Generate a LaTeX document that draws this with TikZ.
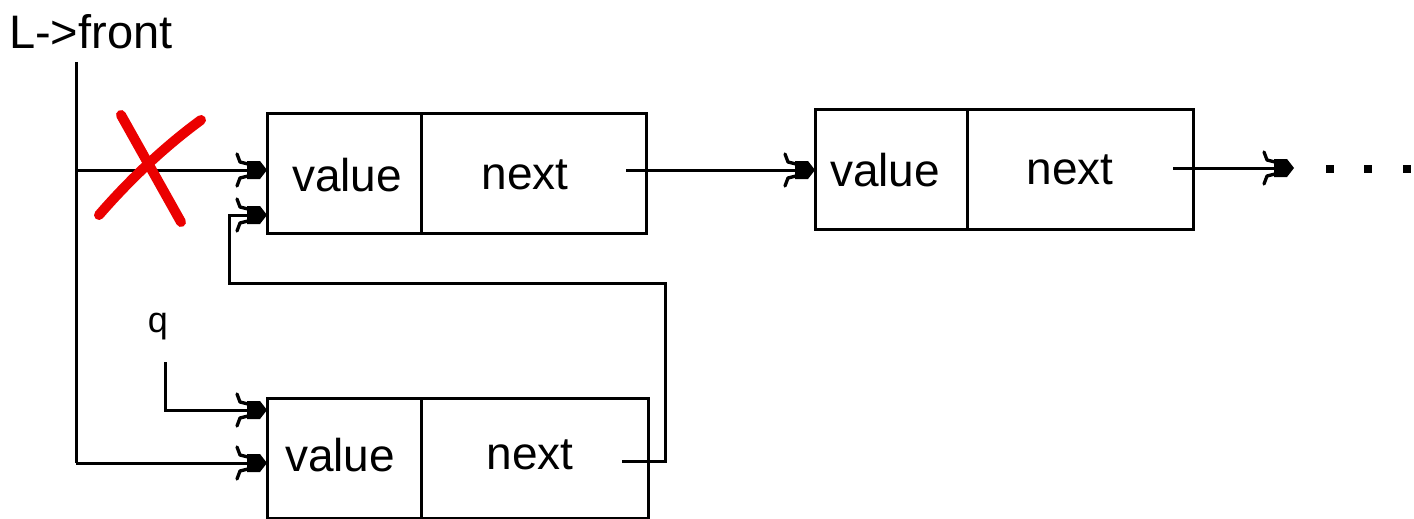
\documentclass[tikz,border=0pt]{standalone}
\usepackage{fontspec}
\setmainfont{Liberation Sans}
\usetikzlibrary{arrows.meta}
\pgfdeclarearrow{
  name=HookTip,
  setup code={
    \pgfarrowssettipend{0pt}
    \pgfarrowssetlineend{-11pt}
    \pgfarrowssetbackend{-34pt}
    \pgfarrowshullpoint{0pt}{0pt}
    \pgfarrowshullpoint{-34pt}{18pt}
    \pgfarrowshullpoint{-34pt}{-18pt}
  },
  drawing code={
    \pgfsetdash{}{0pt}
    \pgfsetroundcap
    \pgfsetroundjoin
    \pgfpathmoveto{\pgfpoint{-20pt}{9pt}}
    \pgfpathlineto{\pgfpoint{-7pt}{9pt}}
    \pgfpathlineto{\pgfpoint{0pt}{0pt}}
    \pgfpathlineto{\pgfpoint{-7pt}{-9pt}}
    \pgfpathlineto{\pgfpoint{-20pt}{-9pt}}
    \pgfpathclose
    \pgfusepathqfill
    \pgfsetlinewidth{3.3pt}
    \pgfpathmoveto{\pgfpoint{-17pt}{5.5pt}}
    \pgfpathlineto{\pgfpoint{-27pt}{8pt}}
    \pgfpathlineto{\pgfpoint{-30pt}{16pt}}
    \pgfpathmoveto{\pgfpoint{-17pt}{-5.5pt}}
    \pgfpathlineto{\pgfpoint{-27pt}{-8pt}}
    \pgfpathlineto{\pgfpoint{-30pt}{-16pt}}
    \pgfusepathqstroke
  }
}
\begin{document}
\begin{tikzpicture}[x=1pt,y=-1pt,
  cell/.style={draw=black,line width=3pt,minimum height=120pt,inner sep=0pt,font=\fontsize{46}{50}\selectfont},
  wire/.style={line width=3pt},
  ptr/.style={wire,-HookTip},
  lbl/.style={inner sep=0pt,font=\fontsize{46}{50}\selectfont},
  dotsty/.style={fill=black,minimum size=8pt,inner sep=0pt}]
\useasboundingbox (0,0) rectangle (1414,519);
% boxes
\node[cell,minimum width=154pt] (v1) at (344,173) {};
\node[cell,minimum width=225pt] (n1) at (533.5,173) {};
\node[cell,minimum width=152pt] (v2) at (891,169) {};
\node[cell,minimum width=226pt] (n2) at (1080,169) {};
\node[cell,minimum width=154pt] (v3) at (344,458) {};
\node[cell,minimum width=227pt] (n3) at (534.5,458) {};
% texts
\node[lbl] (tv1) at (347,175) {value};
\node[lbl] (tn1) at (525,175) {next};
\node[lbl] (tv2) at (885,170) {value};
\node[lbl] (tn2) at (1070,170) {next};
\node[lbl] (tv3) at (340,455) {value};
\node[lbl] (tn3) at (530,455) {next};
\node[lbl,anchor=west,font=\fontsize{47}{50}\selectfont] (front) at (9,32) {L->front};
\node[lbl,font=\fontsize{36}{40}\selectfont] (q) at (158,327) {q};
% coordinates
\coordinate (ftop) at (76,62);
\coordinate (fbot) at (76,463);
\coordinate (fmid) at (76,170);
\coordinate (e1a) at (267,170);
\coordinate (e1b) at (267,215);
\coordinate (e3a) at (267,410);
\coordinate (e3b) at (267,463);
\coordinate (s1) at (626,170);
\coordinate (e2) at (815,170);
\coordinate (s2) at (1173,168);
\coordinate (e4) at (1294,168);
\coordinate (s3) at (622,461);
\coordinate (qtop) at (165,362);
% L->front pointer
\draw[wire] (ftop) -- (fbot);
\draw[ptr] (fmid) -- (e1a);
\draw[ptr] (fbot) -- (e3b);
% q pointer
\draw[ptr] (qtop) |- (e3a);
% new node next -> first node
\draw[ptr] (s3) -- (665,461) -- (665,283) -- (229,283) -- (229,215) -- (e1b);
% chain
\draw[ptr] (s1) -- (e2);
\draw[ptr] (s2) -- (e4);
\node[dotsty] (d1) at (1330,169) {};
\node[dotsty] (d2) at (1368,169) {};
\node[dotsty] (d3) at (1407,169) {};
% red cross
\draw[red!92!black,line width=10pt,line cap=round] (121,115) -- (181,222);
\draw[red!92!black,line width=10pt,line cap=round] (201,120) .. controls (160,150) and (125,185) .. (99,215);
\end{tikzpicture}
\end{document}
